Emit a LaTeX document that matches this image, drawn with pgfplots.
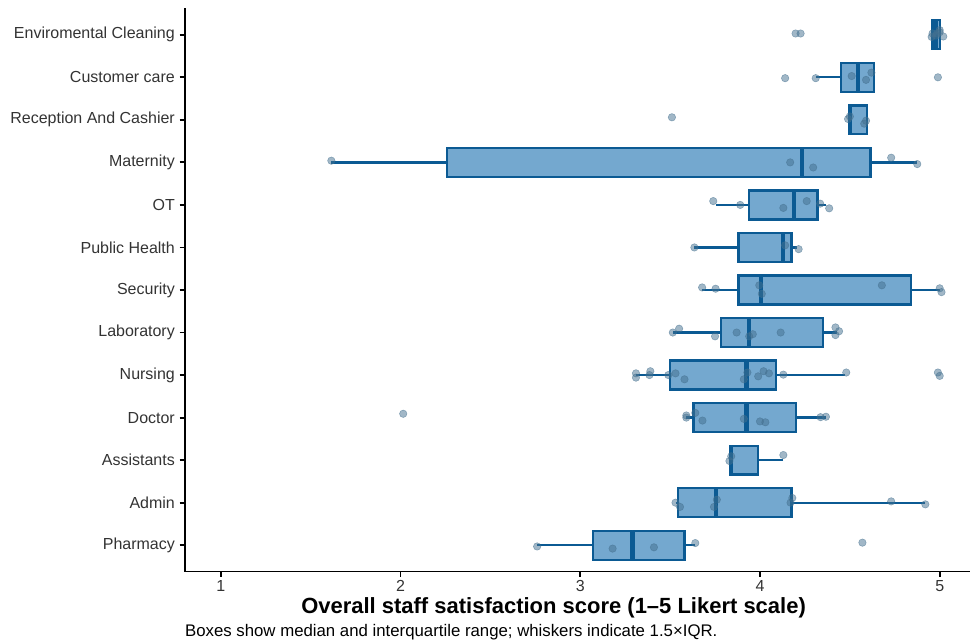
\documentclass[border=0pt]{standalone}
\usepackage{pgfplots}
\pgfplotsset{compat=1.18}
\usepackage{pgfplotstable}
\usepgfplotslibrary{statistics}
\usepackage{fontspec}
\setmainfont{Liberation Sans}
\definecolor{boxfill}{HTML}{74A8CF}
\definecolor{boxedge}{HTML}{0B5A93}
\definecolor{pt}{HTML}{44708F}
\definecolor{lbl}{HTML}{333333}

\pgfplotstableread{
x y
2.76 -0.03
3.18 -0.08
3.41 -0.05
3.64 0.05
4.57 0.06
3.53 1.00
3.555 0.90
3.744 0.90
3.76 1.07
4.17 1.00
4.18 1.11
4.73 1.03
4.92 0.96
3.83 1.98
3.84 2.09
4.13 2.12
2.015 3.09
3.59 3.05
3.59 3.00
3.64 3.11
3.68 2.93
3.91 2.97
4.00 2.91
4.03 2.89
4.337 3.01
4.367 3.02
3.31 4.04
3.31 3.94
3.385 4.00
3.39 4.09
3.49 4.00
3.53 4.04
3.58 3.90
3.91 3.90
3.93 4.06
3.99 3.97
4.02 4.09
4.05 4.04
4.13 4.01
4.48 4.06
4.99 4.06
5.00 3.98
3.515 5.00
3.55 5.09
3.75 4.91
3.87 5.00
3.94 4.91
3.96 4.96
4.115 5.00
4.42 5.12
4.42 4.94
4.44 5.03
3.678 6.06
3.753 6.03
3.996 6.11
4.01 5.91
4.678 6.11
5.00 6.04
5.01 5.95
3.635 7.00
4.14 7.05
4.215 6.96
3.74 8.09
3.89 8.00
4.13 7.93
4.26 8.09
4.335 8.03
4.385 7.92
1.615 9.04
4.168 9.00
4.296 8.88
4.73 9.11
4.875 8.96
3.51 10.06
4.49 10.02
4.50 10.08
4.59 9.98
4.58 9.91
4.14 10.98
4.31 10.98
4.51 11.03
4.59 10.94
4.62 11.11
4.99 11.00
4.198 12.03
4.226 12.03
4.955 11.95
4.96 12.03
4.98 11.98
4.985 12.03
5.00 12.11
5.02 11.96
5.00 12.06
}\pts

\begin{document}
\begin{tikzpicture}
\begin{axis}[
  scale only axis,
  width=589.5pt, height=423pt,
  xmin=0.8, xmax=5.17,
  ymin=-0.62, ymax=12.63,
  axis lines=left,
  axis line style={-, line width=1.1pt, black},
  every tick/.style={line width=1.4pt, black},
  tick align=outside,
  major tick length=4pt,
  xtick={1,2,3,4,5},
  ytick={0,1,2,3,4,5,6,7,8,9,10,11,12},
  yticklabels={Pharmacy,Admin,Assistants,Doctor,Nursing,Laboratory,Security,Public Health,OT,Maternity,Reception And Cashier,Customer care,Enviromental Cleaning},
  ticklabel style={font=\fontsize{12}{14}\selectfont, text=lbl},
  xticklabel style={inner sep=1pt, yshift=-1.5pt},
  /pgf/number format/assume math mode=true,
  xlabel={Overall staff satisfaction score (1–5 Likert scale)},
  xlabel style={font=\fontsize{16.5}{19}\selectfont\bfseries, at={(axis description cs:0.5,0)}, anchor=center, yshift=-27pt, xshift=-18pt, inner sep=0.5pt},
  clip=false,
  boxplot/draw direction=x,
  boxplot/box extend=0.68,
  boxplot/whisker extend=0,
  boxplot/every median/.style={line width=3.2pt},
  every boxplot/.style={draw=boxedge, fill=boxfill, line width=1.7pt},
]
\addplot[boxplot prepared={draw position=0, lower whisker=2.76, lower quartile=3.07, median=3.29, upper quartile=3.58, upper whisker=3.64}] coordinates {};
\addplot[boxplot prepared={draw position=1, lower whisker=3.53, lower quartile=3.545, median=3.755, upper quartile=4.175, upper whisker=4.92}] coordinates {};
\addplot[boxplot prepared={draw position=2, lower whisker=3.83, lower quartile=3.835, median=3.84, upper quartile=3.99, upper whisker=4.13}] coordinates {};
\addplot[boxplot prepared={draw position=3, lower whisker=3.59, lower quartile=3.63, median=3.925, upper quartile=4.20, upper whisker=4.365}] coordinates {};
\addplot[boxplot prepared={draw position=4, lower whisker=3.31, lower quartile=3.50, median=3.925, upper quartile=4.09, upper whisker=4.475}] coordinates {};
\addplot[boxplot prepared={draw position=5, lower whisker=3.515, lower quartile=3.785, median=3.94, upper quartile=4.35, upper whisker=4.43}] coordinates {};
\addplot[boxplot prepared={draw position=6, lower whisker=3.675, lower quartile=3.88, median=4.005, upper quartile=4.84, upper whisker=5.0}] coordinates {};
\addplot[boxplot prepared={draw position=7, lower whisker=3.635, lower quartile=3.88, median=4.13, upper quartile=4.175, upper whisker=4.205}] coordinates {};
\addplot[boxplot prepared={draw position=8, lower whisker=3.755, lower quartile=3.94, median=4.19, upper quartile=4.32, upper whisker=4.37}] coordinates {};
\addplot[boxplot prepared={draw position=9, lower whisker=1.615, lower quartile=2.26, median=4.235, upper quartile=4.615, upper whisker=4.875}] coordinates {};
\addplot[boxplot prepared={draw position=10, lower whisker=4.49, lower quartile=4.495, median=4.50, upper quartile=4.595, upper whisker=4.595}] coordinates {};
\addplot[boxplot prepared={draw position=11, lower whisker=4.31, lower quartile=4.45, median=4.545, upper quartile=4.635, upper whisker=4.635}] coordinates {};
\addplot[boxplot prepared={draw position=12, lower whisker=4.96, lower quartile=4.96, median=4.98, upper quartile=5.0, upper whisker=5.0}] coordinates {};
\addplot[only marks, mark=*, mark size=2.8pt, mark options={draw=pt, fill=pt, fill opacity=0.5, draw opacity=0.55, line width=0.4pt}] table[x=x, y=y] {\pts};
\node[anchor=base west, font=\fontsize{12.6}{15}\selectfont, text=black, inner sep=0pt] at ([yshift=-48.5pt]rel axis cs:0,0) {Boxes show median and interquartile range; whiskers indicate 1.5×IQR.};
\end{axis}
\path ([xshift=-138.75pt,yshift=-52.5pt]current axis.south west) rectangle ([yshift=6pt]current axis.north east);
\end{tikzpicture}
\end{document}
